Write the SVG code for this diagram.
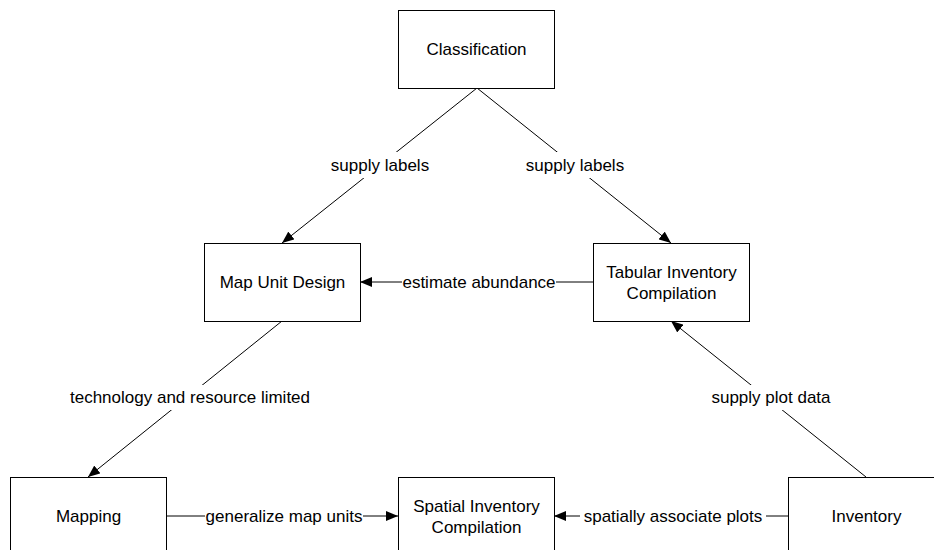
<svg xmlns="http://www.w3.org/2000/svg" width="934" height="550" viewBox="0 0 934 550">
<style>
.box{fill:#fff;stroke:#000;stroke-width:1}
.t{font-family:"Liberation Sans",Arial,sans-serif;font-size:17px;fill:#000;text-anchor:middle;dominant-baseline:central}
.e{stroke:#000;stroke-width:1;fill:none}
.lb{fill:#fff}
</style>
<defs>
<marker id="ah" viewBox="0 0 12 10" refX="12" refY="5" markerWidth="12" markerHeight="10" markerUnits="userSpaceOnUse" orient="auto">
<path d="M0,0 L12,5 L0,10 z" fill="#000"/>
</marker>
</defs>
<rect width="934" height="550" fill="#fff"/>
<g id="edges">
<line class="e" x1="477" y1="88" x2="282" y2="243" marker-end="url(#ah)"/>
<line class="e" x1="477" y1="88" x2="671" y2="243" marker-end="url(#ah)"/>
<line class="e" x1="593" y1="282" x2="360" y2="282" marker-end="url(#ah)"/>
<line class="e" x1="282" y1="321" x2="88" y2="477" marker-end="url(#ah)"/>
<line class="e" x1="866" y1="477" x2="671" y2="321" marker-end="url(#ah)"/>
<line class="e" x1="166" y1="516" x2="398" y2="516" marker-end="url(#ah)"/>
<line class="e" x1="788" y1="516" x2="554" y2="516" marker-end="url(#ah)"/>
<rect class="lb" x="328" y="152" width="104" height="26"/>
<text class="t" x="380" y="165">supply labels</text>
<rect class="lb" x="523" y="152" width="104" height="26"/>
<text class="t" x="575" y="165">supply labels</text>
<rect class="lb" x="402" y="270" width="154" height="24"/>
<text class="t" x="479" y="282">estimate abundance</text>
<rect class="lb" x="66" y="385" width="249" height="25"/>
<text class="t" x="190" y="397">technology and resource limited</text>
<rect class="lb" x="708" y="385" width="126" height="25"/>
<text class="t" x="771" y="397">supply plot data</text>
<rect class="lb" x="205" y="504" width="158" height="24"/>
<text class="t" x="284" y="516">generalize map units</text>
<rect class="lb" x="580" y="504" width="186" height="24"/>
<text class="t" x="673" y="516">spatially associate plots</text>
</g>
<g id="classification">
<rect class="box" x="398.5" y="10.5" width="156" height="78"/>
<text class="t" x="476.5" y="49">Classification</text>
</g>
<g id="map-unit-design">
<rect class="box" x="204.5" y="243.5" width="156" height="78"/>
<text class="t" x="282.5" y="282">Map Unit Design</text>
</g>
<g id="tabular-inventory">
<rect class="box" x="593.5" y="243.5" width="156" height="78"/>
<text class="t" x="671.5" y="272">Tabular Inventory</text>
<text class="t" x="671.5" y="293">Compilation</text>
</g>
<g id="mapping">
<rect class="box" x="10.5" y="477.5" width="156" height="78"/>
<text class="t" x="88.5" y="516">Mapping</text>
</g>
<g id="spatial-inventory">
<rect class="box" x="398.5" y="477.5" width="156" height="78"/>
<text class="t" x="476.5" y="506">Spatial Inventory</text>
<text class="t" x="476.5" y="527">Compilation</text>
</g>
<g id="inventory">
<rect class="box" x="788.5" y="477.5" width="156" height="78"/>
<text class="t" x="866.5" y="516">Inventory</text>
</g>
</svg>
